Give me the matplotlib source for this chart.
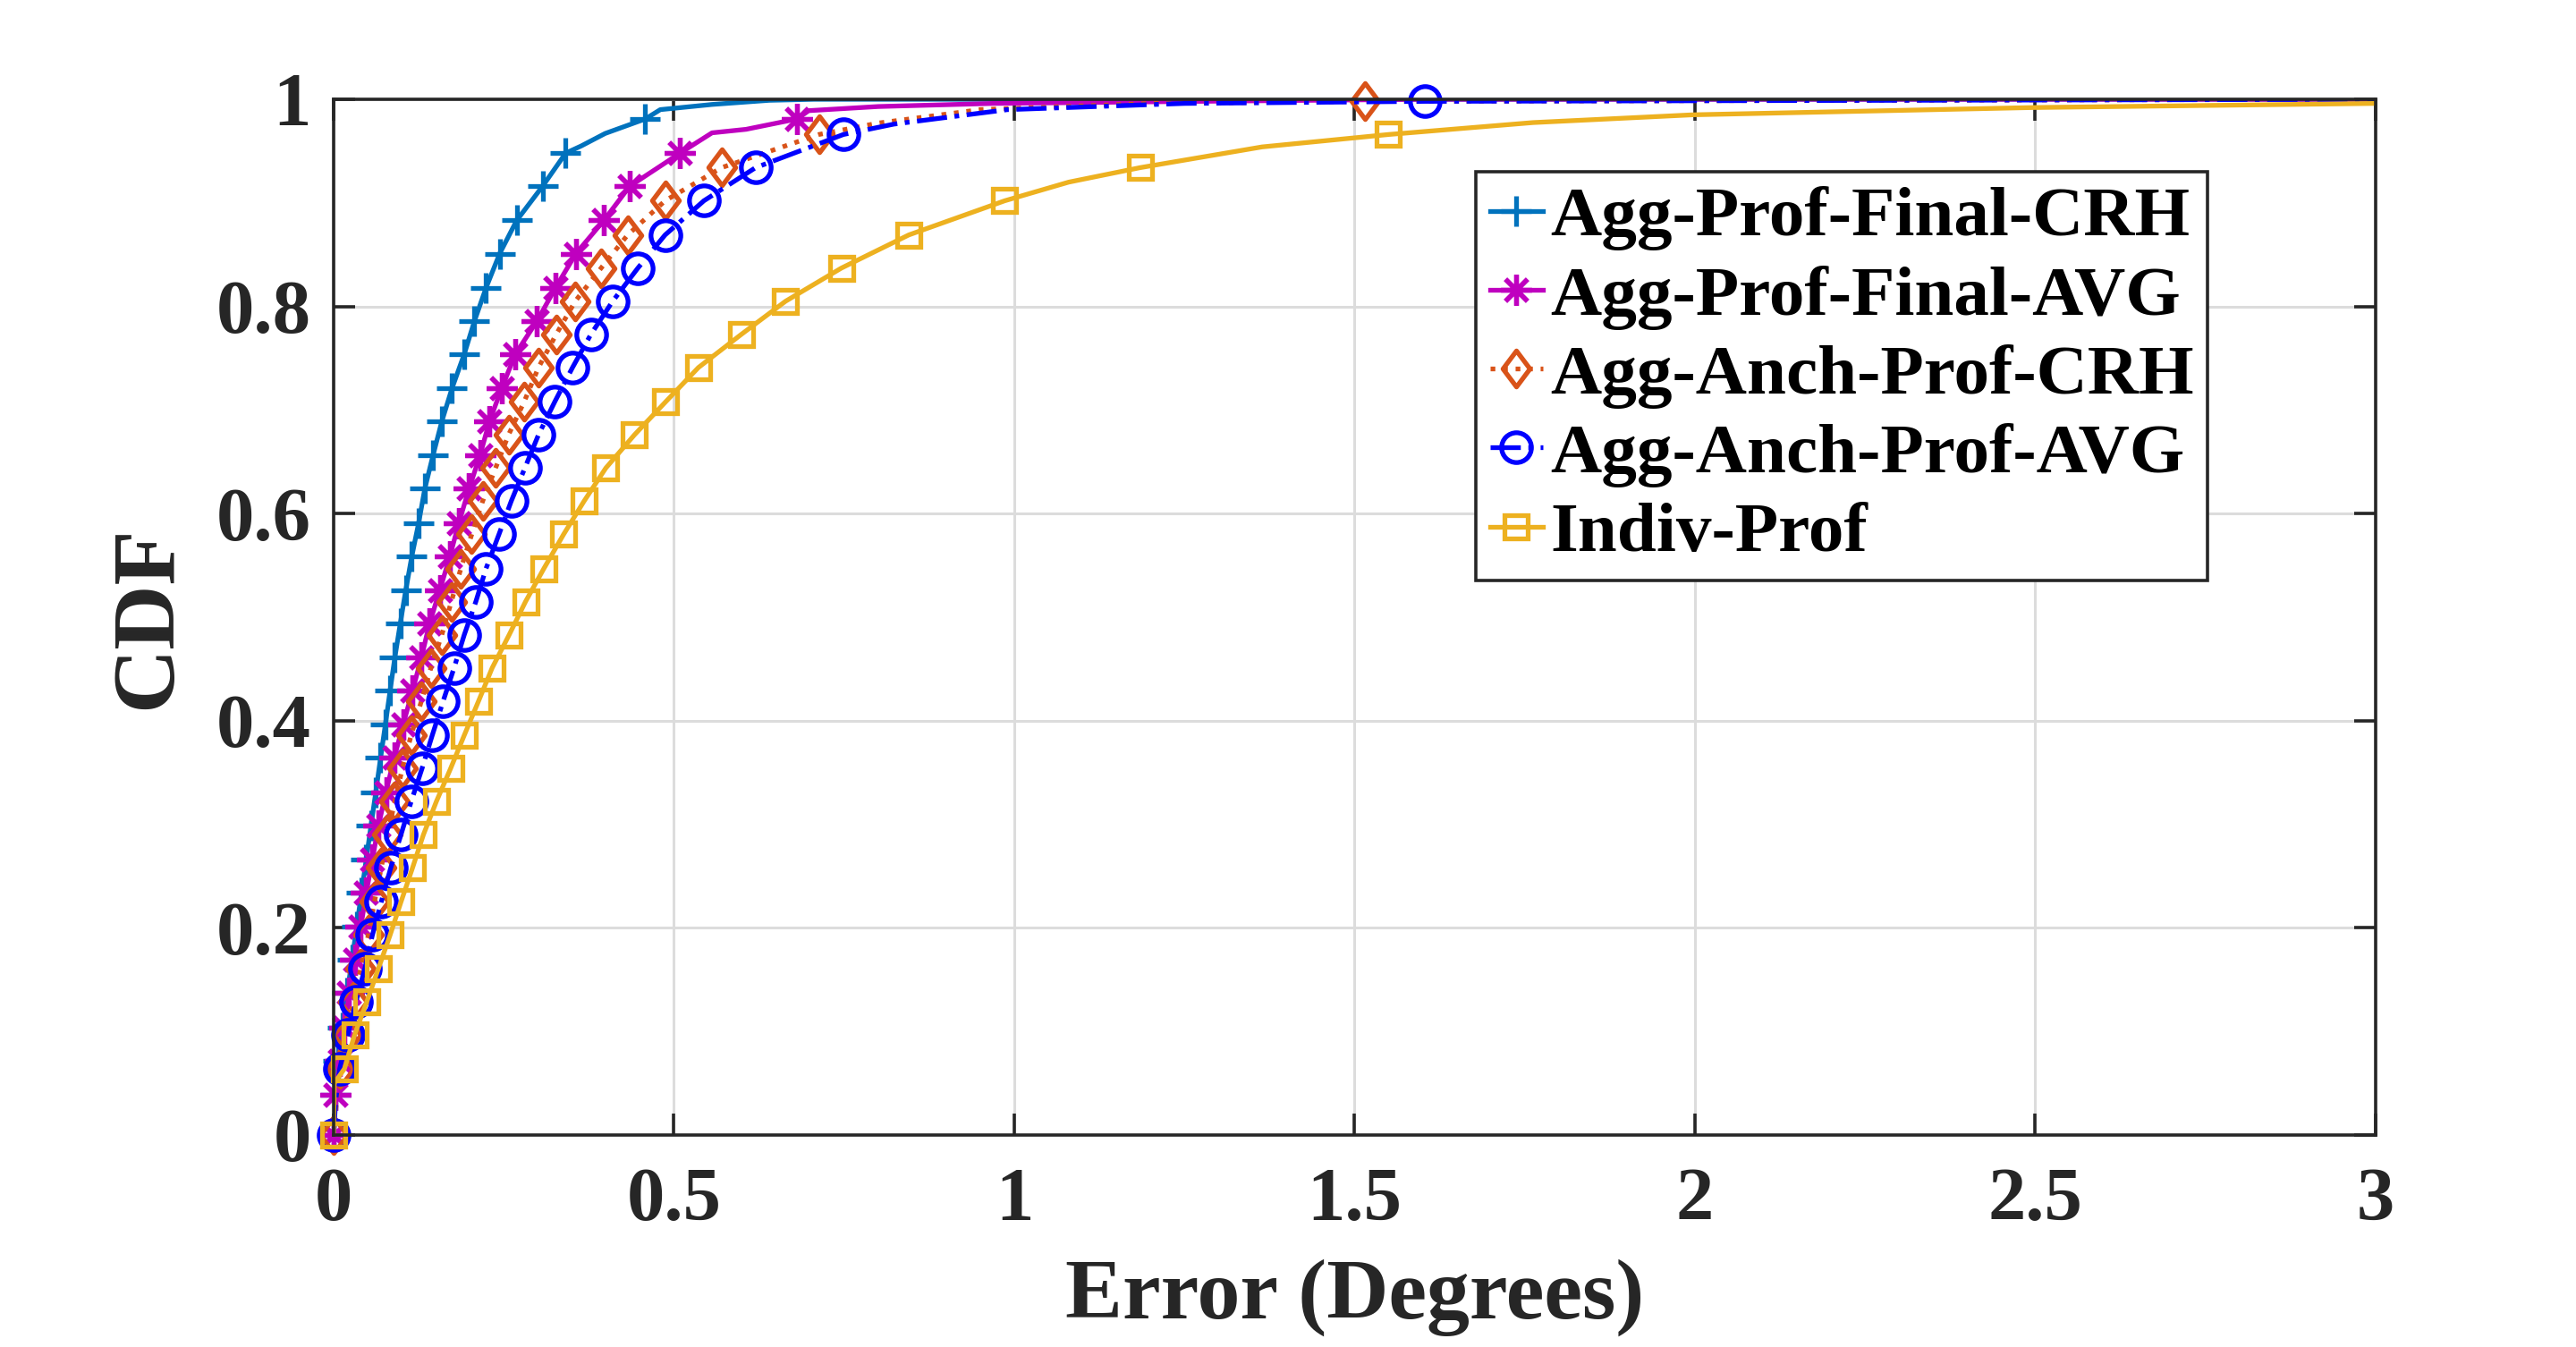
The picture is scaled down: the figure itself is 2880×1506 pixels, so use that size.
import matplotlib
matplotlib.use("Agg")
import matplotlib.pyplot as plt
from matplotlib.lines import Line2D
from matplotlib.path import Path

# ---- data (error in degrees, CDF) ----
# points carrying a marker
crh_err = [0, 0.003, 0.007, 0.013, 0.020, 0.027, 0.034, 0.041, 0.048, 0.055, 0.062,
           0.069, 0.076, 0.083, 0.090, 0.098, 0.106, 0.115, 0.125, 0.134, 0.146,
           0.159, 0.174, 0.192, 0.207, 0.224, 0.244, 0.269, 0.307, 0.341, 0.458]
crh_cdf = [0, 0.039, 0.072, 0.104, 0.137, 0.169, 0.201, 0.234, 0.266, 0.299, 0.331,
           0.364, 0.396, 0.429, 0.461, 0.494, 0.526, 0.559, 0.591, 0.624, 0.656,
           0.689, 0.721, 0.754, 0.786, 0.818, 0.851, 0.883, 0.916, 0.948, 0.981]
avg_err = [0, 0.003, 0.009, 0.016, 0.023, 0.031, 0.040, 0.048, 0.057, 0.066, 0.077,
           0.089, 0.102, 0.116, 0.129, 0.141, 0.156, 0.171, 0.184, 0.199, 0.215,
           0.229, 0.247, 0.267, 0.299, 0.326, 0.356, 0.397, 0.435, 0.509, 0.681]
avg_cdf = crh_cdf
anch_crh_err = [0, 0.009, 0.020, 0.029, 0.040, 0.051, 0.060, 0.070, 0.079, 0.090,
                0.101, 0.114, 0.129, 0.143, 0.159, 0.173, 0.187, 0.203, 0.219, 0.238,
                0.257, 0.280, 0.301, 0.327, 0.355, 0.393, 0.432, 0.487, 0.570, 0.713, 1.515]
anch_cdf = [0, 0.064, 0.097, 0.129, 0.161, 0.193, 0.225, 0.258, 0.290, 0.322,
            0.354, 0.386, 0.419, 0.451, 0.483, 0.515, 0.547, 0.580, 0.612, 0.644,
            0.676, 0.708, 0.741, 0.773, 0.805, 0.837, 0.869, 0.902, 0.934, 0.966, 0.998]
anch_avg_err = [0, 0.009, 0.021, 0.033, 0.046, 0.057, 0.070, 0.084, 0.099, 0.114,
                0.130, 0.145, 0.161, 0.177, 0.192, 0.209, 0.224, 0.243, 0.261, 0.281,
                0.301, 0.325, 0.351, 0.378, 0.410, 0.447, 0.487, 0.544, 0.620, 0.749, 1.603]
indiv_err = [0, 0.016, 0.031, 0.049, 0.066, 0.083, 0.099, 0.116, 0.132, 0.151,
             0.172, 0.192, 0.213, 0.233, 0.258, 0.282, 0.309, 0.338, 0.368, 0.400,
             0.442, 0.488, 0.536, 0.599, 0.664, 0.746, 0.845, 0.986, 1.185, 1.550]
indiv_cdf = anch_cdf[:-1]

# curve points between / after the markers
crh_tail_err = [0.364, 0.399, 0.48, 0.556, 0.64, 0.706, 3.0]
crh_tail_cdf = [0.955, 0.967, 0.990, 0.995, 0.999, 1.0, 1.0]
avg_tail_err = [0.556, 0.606, 0.698, 0.80, 0.97, 1.27, 1.6, 3.0]
avg_tail_cdf = [0.9676, 0.971, 0.989, 0.993, 0.996, 0.998, 1.0, 1.0]
anch_crh_tail_err = [0.004, 0.80, 0.95, 1.2, 3.0]
anch_crh_tail_cdf = [0.032, 0.977, 0.990, 0.996, 1.0]
anch_avg_tail_err = [0.003, 0.823, 0.99, 1.25, 3.0]
anch_avg_tail_cdf = [0.032, 0.976, 0.990, 0.996, 1.0]
indiv_tail_err = [0.001, 1.08, 1.364, 1.762, 1.997, 2.495, 3.0]
indiv_tail_cdf = [0.05, 0.92, 0.954, 0.9775, 0.985, 0.992, 0.996]

labels = ["Agg-Prof-Final-CRH", "Agg-Prof-Final-AVG", "Agg-Anch-Prof-CRH",
          "Agg-Anch-Prof-AVG", "Indiv-Prof"]
x_ticks = [0, 0.5, 1, 1.5, 2, 2.5, 3]
x_ticklabels = ["0", "0.5", "1", "1.5", "2", "2.5", "3"]
y_ticks = [0, 0.2, 0.4, 0.6, 0.8, 1]
y_ticklabels = ["0", "0.2", "0.4", "0.6", "0.8", "1"]

plt.rcParams["font.family"] = ["Liberation Serif", "DejaVu Serif"]
plt.rcParams["font.weight"] = "bold"

# MATLAB style tall diamond
diamond = Path([(0, 1), (0.75, 0), (0, -1), (-0.75, 0), (0, 1)],
               [Path.MOVETO, Path.LINETO, Path.LINETO, Path.LINETO, Path.CLOSEPOLY])

series = [
    (crh_err, crh_cdf, crh_tail_err, crh_tail_cdf,
     dict(color="#0072BD", ls="-", marker="+", ms=25)),
    (avg_err, avg_cdf, avg_tail_err, avg_tail_cdf,
     dict(color="#BF00BF", ls="-", marker=(8, 2, 0), ms=25)),
    (anch_crh_err, anch_cdf, anch_crh_tail_err, anch_crh_tail_cdf,
     dict(color="#D95319", ls=":", marker=diamond, ms=29)),
    (anch_avg_err, anch_cdf, anch_avg_tail_err, anch_avg_tail_cdf,
     dict(color="#0000FF", ls="-.", marker="o", ms=24)),
    (indiv_err, indiv_cdf, indiv_tail_err, indiv_tail_cdf,
     dict(color="#EDB120", ls="-", marker="s", ms=19)),
]

fig = plt.figure(figsize=(28.8, 15.06), dpi=100)
ax = fig.add_axes([0.1295, 0.1574, 0.7927, 0.7689])

handles = []
for mx, my, tx, ty, st in series:
    pts = sorted(zip(list(my) + list(ty), list(mx) + list(tx)))
    line_y = [p[0] for p in pts]
    line_x = [p[1] for p in pts]
    ax.plot(line_x, line_y, color=st["color"], ls=st["ls"], lw=3.8, clip_on=True)
    ax.plot(mx, my, ls="none", marker=st["marker"], ms=st["ms"], mew=3.8,
            mec=st["color"], mfc="none", clip_on=False)
    handles.append(Line2D([], [], color=st["color"], ls=st["ls"], lw=3.8,
                          marker=st["marker"], ms=st["ms"], mew=3.8,
                          mec=st["color"], mfc="none"))

ax.set_xlim(0, 3)
ax.set_ylim(0, 1)
ax.set_xticks(x_ticks)
ax.set_xticklabels(x_ticklabels)
ax.set_yticks(y_ticks)
ax.set_yticklabels(y_ticklabels)
ax.grid(True, color="#dcdcdc", lw=2.2)
ax.set_axisbelow(True)
for s in ax.spines.values():
    s.set_linewidth(2.6)
    s.set_color("#262626")
ax.tick_params(direction="in", length=17, width=2.6, top=True, right=True,
               labelsize=61, colors="#262626")
ax.tick_params(axis="x", pad=26)
ax.tick_params(axis="y", pad=18)

ax.set_xlabel("Error (Degrees)", fontsize=69, fontweight="bold", color="#262626", labelpad=18)
ax.set_ylabel("CDF", fontsize=72, fontweight="bold", color="#262626", labelpad=22)

leg = ax.legend(handles, labels, loc="upper left", bbox_to_anchor=(0.5593, 0.930),
                borderaxespad=0, fontsize=57, handlelength=0.75, handletextpad=0.1,
                labelspacing=0.2, borderpad=0.2, fancybox=False, framealpha=1)
leg.get_frame().set_edgecolor("#262626")
leg.get_frame().set_linewidth(2.6)
for t in leg.get_texts():
    t.set_color("black")

fig.savefig("out.png", dpi=100)
